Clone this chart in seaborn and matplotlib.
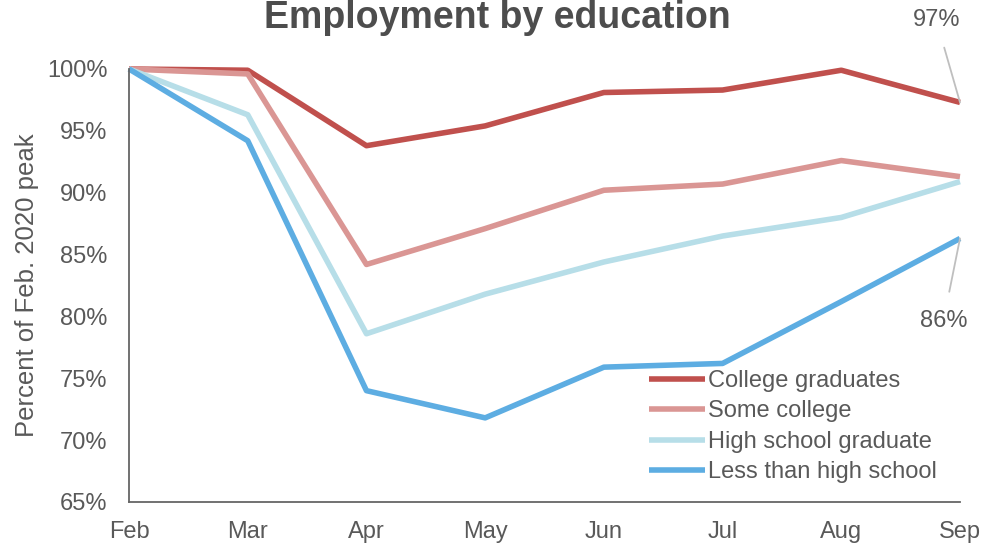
import matplotlib
matplotlib.use("Agg")
import matplotlib.pyplot as plt
import seaborn as sns
import pandas as pd

months = ["Feb", "Mar", "Apr", "May", "Jun", "Jul", "Aug", "Sep"]
college_grad = [100.0, 99.9, 93.8, 95.4, 98.1, 98.3, 99.9, 97.3]
some_college = [100.0, 99.6, 84.2, 87.1, 90.2, 90.7, 92.6, 91.3]
hs_grad = [100.0, 96.3, 78.6, 81.8, 84.4, 86.5, 88.0, 90.9]
less_than_hs = [100.0, 94.2, 74.0, 71.8, 75.9, 76.2, 81.2, 86.3]
series_names = ["College graduates", "Some college", "High school graduate", "Less than high school"]
colors = ["#C0504D", "#DA9694", "#B7DEE8", "#5DADE2"]
y_ticks = [65, 70, 75, 80, 85, 90, 95, 100]

rows = []
for name, vals in zip(series_names, [college_grad, some_college, hs_grad, less_than_hs]):
    for i, v in enumerate(vals):
        rows.append({"idx": i, "month": months[i], "value": v, "group": name})
df = pd.DataFrame(rows)

sns.set_theme(style="white")
plt.rcParams["font.family"] = ["Liberation Sans", "DejaVu Sans"]
text_color = "#595959"

fig = plt.figure(figsize=(9.82, 5.45), dpi=100)
ax = fig.add_axes([0.1314, 0.0789, 0.8462, 0.7945])

sns.lineplot(data=df, x="idx", y="value", hue="group", hue_order=series_names,
             palette=colors, linewidth=4.0, sort=False, ax=ax, legend=True)
for line in ax.lines:
    line.set_clip_on(False)
    line.set_solid_capstyle("butt")

ax.set_xlim(0, len(months) - 1)
ax.set_ylim(65, 100)
ax.set_xticks(range(len(months)))
ax.set_xticklabels(months)
ax.set_yticks(y_ticks)
ax.set_yticklabels([f"{t}%" for t in y_ticks])
ax.tick_params(axis="x", direction="out", length=6, width=1.2, color="#666666",
               labelsize=17, labelcolor=text_color, pad=8)
ax.tick_params(axis="y", length=0, labelsize=17, labelcolor=text_color, pad=15.5)
ax.set_xlabel("")
ax.set_ylabel("Percent of Feb. 2020 peak", fontsize=18.5, color=text_color, labelpad=6)

sns.despine(ax=ax)
for s in ("left", "bottom"):
    ax.spines[s].set_color("#666666")
    ax.spines[s].set_linewidth(1.3)

fig.suptitle("Employment by education", x=0.506, y=1.0, fontsize=27,
             fontweight="bold", color="#4D4D4D")

leg = ax.legend(loc="lower right", bbox_to_anchor=(0.983, 0.021), frameon=False,
                fontsize=17, handlelength=2.4, handletextpad=0.1,
                labelspacing=0.36, borderaxespad=0)
for t in leg.get_texts():
    t.set_color(text_color)

last = len(months) - 1
ax.annotate(f"{college_grad[-1]:.0f}%", xy=(last, college_grad[-1]),
            xytext=(last - 0.2, 100.0 + (69 - 20) / 12.37), textcoords="data",
            fontsize=17, color=text_color, ha="center", va="center",
            annotation_clip=False,
            arrowprops=dict(arrowstyle="-", color="#BFBFBF", lw=1.3, shrinkA=10, shrinkB=0))
ax.annotate(f"{less_than_hs[-1]:.0f}%", xy=(last, less_than_hs[-1]),
            xytext=(last - 0.14, 100.0 - (321 - 69) / 12.37), textcoords="data",
            fontsize=17, color=text_color, ha="center", va="center",
            annotation_clip=False,
            arrowprops=dict(arrowstyle="-", color="#BFBFBF", lw=1.3, shrinkA=11, shrinkB=0))

fig.savefig("out.png", dpi=100)
